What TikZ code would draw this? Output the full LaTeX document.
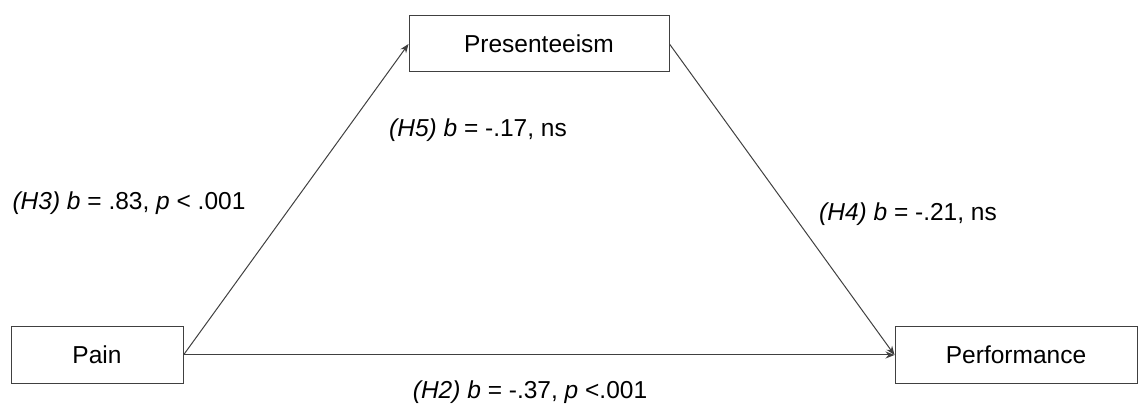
\documentclass[tikz,border=0pt]{standalone}
\usepackage{fontspec}
\setmainfont{Liberation Sans}
\usepackage{tikz}
\usetikzlibrary{arrows.meta, positioning}

\begin{document}
\begin{tikzpicture}[x=1pt, y=1pt,
    varbox/.style={draw=black!75, line width=1pt, minimum height=56pt,
        font=\fontsize{24.5}{29}\selectfont},
    path/.style={draw=black!75, line width=1pt, -{Stealth[length=9pt, width=7pt]}},
    coef/.style={font=\fontsize{24.5}{29}\selectfont}]

    % =================================================================
    % 1. KHUNG HINH
    % =================================================================
    \useasboundingbox (0,0) rectangle (1147,412);

    % =================================================================
    % 2. CAC BIEN (HOP)
    % =================================================================
    \node[varbox, minimum width=172pt] (pain) at (97,57) {Pain};
    \node[varbox, minimum width=260pt] (pres) at (539,368) {Presenteeism};
    \node[varbox, minimum width=242pt] (perf) at (1016,57) {Performance};

    % =================================================================
    % 3. CAC DUONG NOI
    % =================================================================
    \draw[path] (pain.east) -- (pres.west);
    \draw[path] (pres.east) -- (perf.west);
    \draw[path] (pain.east) -- (perf.west);

    % =================================================================
    % 4. HE SO
    % =================================================================
    \node[coef] (h3) at (129,209) {\textit{(H3) b} = .83, \textit{p} < .001};
    \node[coef] (h5) at (478,282) {\textit{(H5) b} = -.17, ns};
    \node[coef] (h4) at (908,198) {\textit{(H4) b} = -.21, ns};
    \node[coef] (h2) at (530,20) {\textit{(H2) b} = -.37, \textit{p} <.001};

\end{tikzpicture}
\end{document}
